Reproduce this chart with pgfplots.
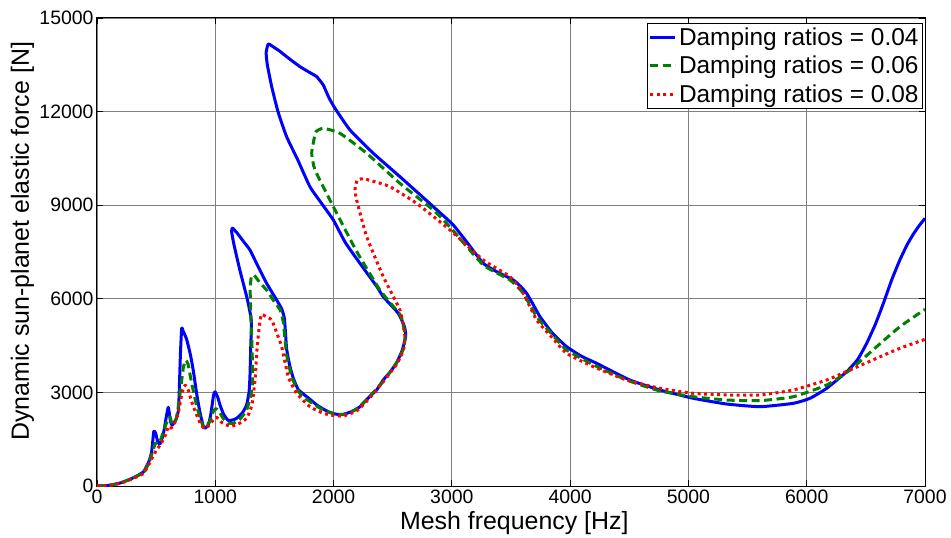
\documentclass[border=0pt]{standalone}
\usepackage{fontspec}
\setmainfont{Liberation Sans}
\usepackage{pgfplots}
\pgfplotsset{compat=1.18}
\definecolor{mblue}{RGB}{0,0,255}
\definecolor{mgreen}{RGB}{0,128,0}
\definecolor{mred}{RGB}{255,0,0}
\begin{document}
\begin{tikzpicture}
\useasboundingbox (-97bp,-52bp) rectangle (854bp,486bp);
\begin{axis}[
 at={(0,0)}, anchor=south west, scale only axis, width=828bp, height=468bp,
 xmin=0, xmax=7000, ymin=0, ymax=15000,
 xtick={0,1000,...,7000}, ytick={0,3000,...,15000},
 grid=major, major grid style={draw=black!50, line width=0.8bp},
 axis line style={line width=1bp},
 tick style={black, line width=0.8bp}, major tick length=6bp,
 tick align=inside,
 ticklabel style={font=\fontsize{19.5}{22}\selectfont},
 /pgf/number format/1000 sep={}, /pgf/number format/assume math mode=true,
 scaled ticks=false,
 xlabel={Mesh frequency [Hz]}, ylabel={Dynamic sun-planet elastic force [N]},
 label style={font=\fontsize{25}{30}\selectfont},
 xlabel style={at={(axis description cs:0.504,-0.094)},anchor=base},
 ylabel style={at={(axis description cs:-0.09,0.523)},anchor=center},
 legend style={at={(axis description cs:0.9976,0.9893)}, anchor=north east, draw=black, line width=1bp, font=\fontsize{24.5}{29}\selectfont, inner sep=1.5bp, row sep=4.5bp, nodes={inner sep=2.5bp}, legend cell align=left},
 legend image code/.code={\draw[#1] (0bp,0bp) -- (25bp,0bp);},
 every axis plot/.append style={smooth, tension=0.3, line join=round},
]
\addplot[mblue, line width=3bp] coordinates {
(0,0) (100,20) (200,100) (300,250) (392,450) (440,800) (462,1100) (480,1750) (495,1700) (515,1400) (533,1350) (560,1650) (585,2200) (603,2520) (620,2100) (635,1950) (670,2150) (690,2500) (705,4200) (716,5050) (730,4950) (758,4700) (790,4200) (814,3700) (845,2900) (871,2350) (900,1900) (913,1850) (940,1950) (960,2250) (985,2900) (998,3020) (1020,2850) (1040,2600) (1070,2300) (1110,2100) (1150,2120) (1181,2170) (1230,2350) (1265,2600) (1285,3000) (1293,3500) (1300,4500) (1305,5300) (1270,6000) (1209,6900) (1160,7700) (1138,8150) (1145,8265) (1180,8130) (1240,7830) (1293,7564) (1360,7050) (1434,6497) (1519,5961) (1561,5680) (1585,5350) (1603,4400) (1630,3850) (1660,3450) (1700,3100) (1744,2950) (1800,2780) (1857,2600) (1920,2450) (1970,2360) (2026,2300) (2082,2300) (2150,2380) (2223,2540) (2300,2850) (2364,3077) (2420,3400) (2477,3650) (2533,3950) (2580,4350) (2610,4800) (2600,5100) (2560,5450) (2533,5600) (2420,6067) (2364,6400) (2223,7137) (2100,7800) (1998,8526) (1900,9050) (1800,9593) (1700,10430) (1603,11195) (1530,12000) (1477,12798) (1440,13500) (1430,13900) (1448,14170) (1480,14100) (1540,13950) (1603,13760) (1716,13440) (1800,13250) (1857,13120) (1913,12850) (1960,12450) (2012,12106) (2139,11410) (2336,10663) (2561,9914) (2843,8953) (3012,8365) (3150,7700) (3265,7138) (3379,6869) (3519,6603) (3580,6400) (3632,6176) (3690,5800) (3745,5426) (3850,4900) (3970,4465) (4100,4150) (4224,3932) (4505,3397) (4760,3077) (5041,2811) (5323,2628) (5605,2542) (5887,2650) (6028,2811) (6169,3131) (6338,3664) (6430,4050) (6507,4574) (6580,5180) (6648,5855) (6720,6620) (6788,7250) (6850,7740) (6901,8070) (6950,8340) (7000,8580)
};
\addlegendentry{Damping ratios = 0.04}
\addplot[mgreen, line width=3bp, dash pattern=on 8bp off 4.5bp] coordinates {
(0,0) (100,20) (200,100) (300,250) (392,430) (440,750) (470,1100) (495,1380) (515,1350) (540,1500) (575,1900) (603,2150) (617,2220) (635,2000) (670,2150) (700,2900) (730,3800) (750,4030) (770,3900) (800,3300) (840,2600) (871,2200) (900,1880) (913,1850) (950,2050) (985,2400) (1005,2480) (1030,2400) (1070,2150) (1110,2020) (1152,2009) (1210,2150) (1265,2436) (1300,2900) (1316,3400) (1310,4500) (1300,5500) (1295,6300) (1305,6720) (1330,6750) (1380,6500) (1434,6282) (1500,5900) (1547,5650) (1575,5250) (1603,4200) (1646,3503) (1700,3050) (1744,2862) (1820,2650) (1913,2436) (2026,2290) (2100,2300) (2200,2480) (2300,2850) (2420,3350) (2533,3950) (2590,4400) (2605,4850) (2580,5300) (2561,5500) (2392,6282) (2195,7520) (1998,8953) (1843,10128) (1815,10663) (1829,11000) (1850,11350) (1913,11464) (2054,11304) (2280,10663) (2561,9701) (2843,8846) (2984,8300) (3266,7083) (3491,6603) (3604,6176) (3717,5426) (3850,4850) (3970,4359) (4200,3877) (4478,3397) (4760,3045) (5041,2862) (5323,2756) (5605,2735) (5887,2862) (6169,3237) (6366,3718) (6591,4465) (6788,5106) (7000,5663)
};
\addlegendentry{Damping ratios = 0.06}
\addplot[mred, line width=3bp, dash pattern=on 3bp off 3.5bp] coordinates {
(0,0) (100,20) (200,90) (300,230) (392,400) (440,700) (480,1000) (504,1154) (540,1350) (575,1600) (603,1900) (620,1850) (650,1950) (690,2400) (720,3000) (745,3230) (770,3100) (800,2700) (840,2300) (880,1950) (913,1850) (950,1950) (990,2150) (1012,2200) (1050,2050) (1100,1950) (1138,1920) (1200,2000) (1265,2170) (1310,2600) (1336,3397) (1355,4500) (1378,5300) (1392,5500) (1420,5450) (1477,5320) (1520,4900) (1561,4465) (1617,3503) (1688,2971) (1800,2542) (1900,2350) (1970,2276) (2082,2243) (2200,2420) (2300,2800) (2420,3350) (2533,3900) (2590,4350) (2603,4800) (2561,5641) (2420,6710) (2280,7990) (2195,9167) (2181,9500) (2200,9800) (2251,9850) (2350,9750) (2477,9593) (2702,9060) (2984,8205) (3266,7244) (3491,6710) (3604,6176) (3717,5320) (3850,4750) (3970,4252) (4196,3824) (4478,3397) (4760,3131) (5041,2971) (5323,2917) (5605,2917) (5887,3077) (6169,3397) (6366,3718) (6591,4093) (6788,4413) (7000,4700)
};
\addlegendentry{Damping ratios = 0.08}
\end{axis}
\end{tikzpicture}
\end{document}
